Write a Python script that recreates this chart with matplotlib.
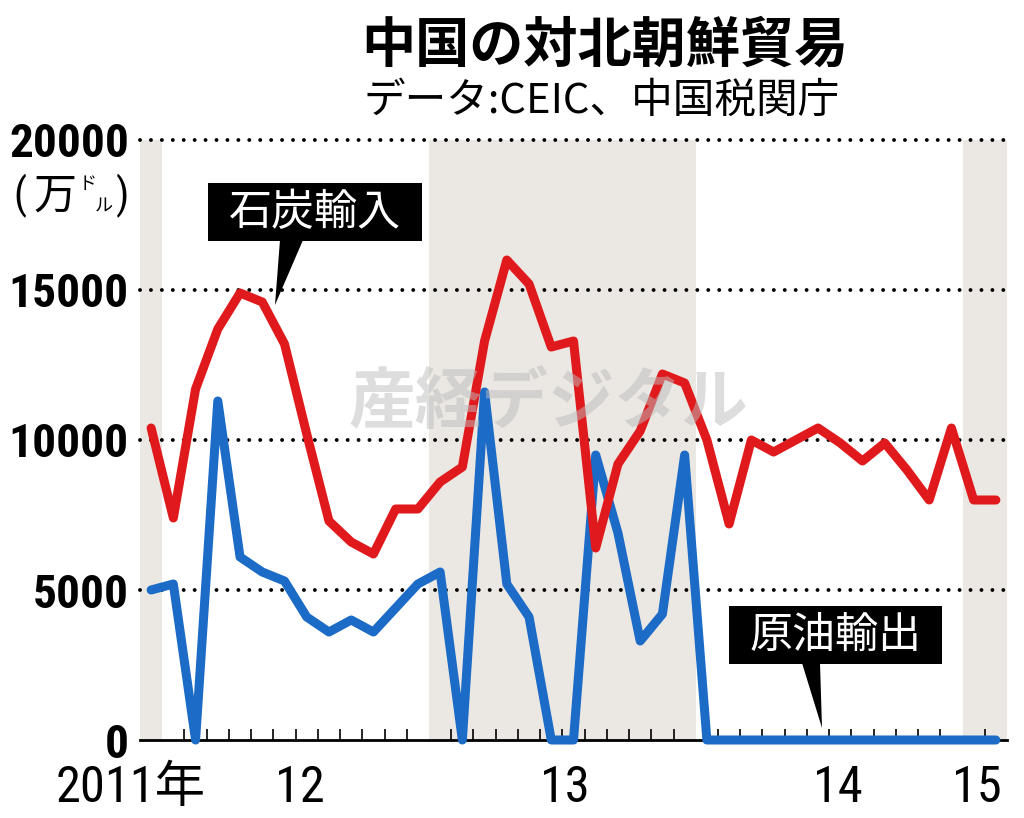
import numpy as np
import matplotlib
matplotlib.use('Agg')
import matplotlib.pyplot as plt
from matplotlib import font_manager
from matplotlib.patches import Polygon, Rectangle
from matplotlib.transforms import blended_transform_factory

# monthly, Dec 2011 .. Feb 2015 (10k USD)
months = np.arange(39)
coal_imports = [10400, 7400, 11700, 13700, 14900, 14600, 13200, 10200, 7300, 6600,
                6200, 7700, 7700, 8600, 9100, 13300, 16000, 15200, 13100, 13300,
                6400, 9200, 10300, 12200, 11900, 10000, 7200, 10000, 9600, 10000,
                10400, 9900, 9300, 9900, 9000, 8000, 10400, 8000, 8000]
crude_exports = [5000, 5200, 0, 11300, 6100, 5600, 5300, 4100, 3600, 4000,
                 3600, 4400, 5200, 5600, 0, 11600, 5200, 4100, 0, 0,
                 9500, 6900, 3300, 4200, 9500, 0, 0, 0, 0, 0,
                 0, 0, 0, 0, 0, 0, 0, 0, 0]
year_labels = ['2011年', '12', '13', '14', '15']
year_label_pos = [-0.9, 6.7, 18.6, 30.9, 37.15]
year_bands = [(-0.5, 0.5), (12.5, 24.5), (36.5, 38.5)]
y_ticks = [0, 5000, 10000, 15000, 20000]

# narrow-ish font for the numbers, whatever is around
installed = {f.name for f in font_manager.fontManager.ttflist}
NUM = 'DejaVu Sans'
for cand in ['Liberation Sans Narrow', 'Roboto Condensed', 'DejaVu Sans Condensed', 'Roboto']:
    if cand in installed:
        NUM = cand
        break
num_scale = {'Liberation Sans Narrow': 1.2, 'Roboto Condensed': 1.1,
             'DejaVu Sans Condensed': 0.97, 'Roboto': 1.0}.get(NUM, 0.88)
JP = 'Noto Sans CJK JP'
plt.rcParams['font.family'] = [NUM, JP, 'DejaVu Sans']

W, H = 1024, 818
fig = plt.figure(figsize=(W / 100, H / 100), dpi=100)
ax = fig.add_axes([140 / W, 1 - 740 / H, 867 / W, 600 / H])


def fx(px):
    return px / W


def fy(py):
    return 1 - py / H


ax.set_xlim(-0.5, 38.5)
ax.set_ylim(0, 20000)
for s in ax.spines.values():
    s.set_visible(False)

for a, b in year_bands:
    ax.axvspan(a, b, ymin=0, ymax=1, color='#ebe7e2', lw=0, zorder=0)

for v in y_ticks[1:]:
    ax.axhline(v, color='black', lw=2.8, ls=(0, (0.01, 2.8)),
               dash_capstyle='round', zorder=1, clip_on=False)
ax.axhline(0, color='black', lw=2, zorder=2, clip_on=False)

# month ticks (not at year boundaries)
minor = [k + 0.5 for k in range(38) if k + 0.5 not in (0.5, 12.5, 24.5, 36.5)]
ax.set_xticks(minor, minor=True)
ax.set_xticks([])
ax.tick_params(axis='x', which='minor', direction='in', length=8, width=1.2, color='black')

ax.set_yticks(y_ticks)
ax.set_yticklabels([str(v) for v in y_ticks], fontsize=31 * num_scale,
                   fontweight='bold', family=[NUM, JP])
ax.tick_params(axis='y', length=0, pad=8)

trans = blended_transform_factory(ax.transData, ax.transAxes)
for lab, pos in zip(year_labels, year_label_pos):
    ax.text(pos, -0.08, lab, transform=trans, ha='center', va='center',
            fontsize=33 * num_scale, family=[NUM, JP])

ax.plot(months, crude_exports, color='#1c6bc6', lw=6.5, solid_joinstyle='round',
        solid_capstyle='round', zorder=4, clip_on=False)
ax.plot(months, coal_imports, color='#e01a1c', lw=6.5, solid_joinstyle='round',
        solid_capstyle='round', zorder=5, clip_on=False)

# titles
fig.text(fx(605), fy(46), '中国の対北朝鮮貿易', ha='center', va='center',
         fontsize=39, fontweight='bold', family=[JP])
fig.text(fx(602), fy(101), 'データ:CEIC、中国税関庁', ha='center', va='center',
         fontsize=30, family=[JP])

# unit label
fig.text(fx(20), fy(196), '(', ha='center', va='center', fontsize=30, family=[NUM])
fig.text(fx(55), fy(197), '万', ha='center', va='center', fontsize=31, family=[JP])
fig.text(fx(88), fy(184), 'ド', ha='center', va='center', fontsize=13, family=[JP])
fig.text(fx(104), fy(206), 'ル', ha='center', va='center', fontsize=13, family=[JP])
fig.text(fx(123), fy(196), ')', ha='center', va='center', fontsize=30, family=[NUM])


def callout(x0, y0, x1, y1, base, tip, text):
    fig.add_artist(Rectangle((fx(x0), fy(y1)), fx(x1) - fx(x0), fy(y0) - fy(y1),
                             transform=fig.transFigure, color='black', lw=0, zorder=6))
    fig.add_artist(Polygon([(fx(base[0]), fy(y1 - 1)), (fx(base[1]), fy(y1 - 1)),
                            (fx(tip[0]), fy(tip[1]))],
                           transform=fig.transFigure, color='black', lw=0, zorder=6))
    fig.text(fx((x0 + x1) / 2), fy((y0 + y1) / 2 + 1), text, ha='center', va='center',
             color='white', fontsize=31, family=[JP], zorder=7)


callout(208, 183, 422, 241, (280, 303), (275, 305), '石炭輸入')
callout(729, 606, 942, 664, (802, 820), (822, 728), '原油輸出')

# watermark
fig.text(fx(548), fy(404), '産経デジタル', ha='center', va='center', fontsize=48,
         fontweight='bold', family=[JP], color='#bdbdbd', alpha=0.5, zorder=10)

fig.savefig('out.png', dpi=100)
